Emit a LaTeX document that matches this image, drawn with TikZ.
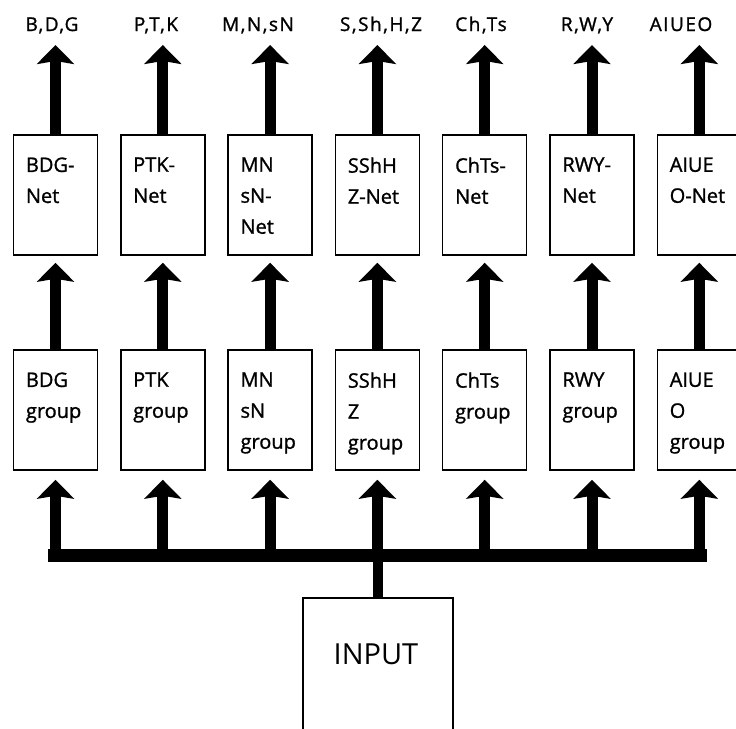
\documentclass[tikz,border=0pt]{standalone}
\usepackage{fontspec}
\setmainfont{Open Sans}
\newfontfamily\heavyfont{Open Sans}[FakeBold=1.2]
\usetikzlibrary{arrows.meta}
\begin{document}
\begin{tikzpicture}[x=1pt,y=-1pt,
  box/.style={draw, line width=1.5pt, minimum width=84pt, minimum height=120pt, inner sep=0pt},
  boxtext/.style={anchor=north west, inner sep=0pt, align=left, font=\heavyfont\fontsize{20}{31}\selectfont},
  toplabel/.style={anchor=base, inner sep=0pt, font=\heavyfont\fontsize{19}{22}\selectfont\addfontfeature{LetterSpace=8}},
  bigarrow/.style={line width=11pt, -{Stealth[length=19pt,width=37pt,inset=3pt]}},
  busline/.style={line width=13pt, line cap=rect},
  stem/.style={line width=10pt}
]
\useasboundingbox (0,0) rectangle (736,728);
\clip (0,0) rectangle (736,728);

% Net boxes (y 135..255) and group boxes (y 350..470)
\foreach \i/\x in {1/55.5,2/162.8,3/270.1,4/377.4,5/484.7,6/592,7/699.3}{
  \node[box] (n\i) at (\x,195) {};
  \node[box] (g\i) at (\x,410) {};
  \coordinate (t\i) at (\x,45);
  \coordinate (b\i) at (\x,555);
}

% Net box texts
\node[boxtext] (n1t) at ([xshift=13pt,yshift=-23pt]n1.north west) {BDG-\\Net};
\node[boxtext] (n2t) at ([xshift=13pt,yshift=-23pt]n2.north west) {PTK-\\Net};
\node[boxtext] (n3t) at ([xshift=13pt,yshift=-23pt]n3.north west) {MN\\sN-\\Net};
\node[boxtext] (n4t) at ([xshift=13pt,yshift=-23pt]n4.north west) {SShH\\Z-Net};
\node[boxtext] (n5t) at ([xshift=13pt,yshift=-23pt]n5.north west) {ChTs-\\Net};
\node[boxtext] (n6t) at ([xshift=13pt,yshift=-23pt]n6.north west) {RWY-\\Net};
\node[boxtext] (n7t) at ([xshift=13pt,yshift=-23pt]n7.north west) {AIUE\\O-Net};

% Group box texts
\node[boxtext] (g1t) at ([xshift=13pt,yshift=-23pt]g1.north west) {BDG\\group};
\node[boxtext] (g2t) at ([xshift=13pt,yshift=-23pt]g2.north west) {PTK\\group};
\node[boxtext] (g3t) at ([xshift=13pt,yshift=-23pt]g3.north west) {MN\\sN\\group};
\node[boxtext] (g4t) at ([xshift=13pt,yshift=-23pt]g4.north west) {SShH\\Z\\group};
\node[boxtext] (g5t) at ([xshift=13pt,yshift=-23pt]g5.north west) {ChTs\\group};
\node[boxtext] (g6t) at ([xshift=13pt,yshift=-23pt]g6.north west) {RWY\\group};
\node[boxtext] (g7t) at ([xshift=13pt,yshift=-23pt]g7.north west) {AIUE\\O\\group};

% Top labels
\node[toplabel] (l1) at (52,31) {B,D,G};
\node[toplabel] (l2) at (156,31) {P,T,K};
\node[toplabel] (l3) at (258,31) {M,N,sN};
\node[toplabel] (l4) at (381,31) {S,Sh,H,Z};
\node[toplabel] (l5) at (481,31) {Ch,Ts};
\node[toplabel] (l6) at (587,31) {R,W,Y};
\node[toplabel] (l7) at (681,31) {AIUEO};

% Input box
\node[box, minimum width=150pt, minimum height=150pt] (in) at (378,673) {};
\node[inner sep=0pt, font=\fontsize{29}{34}\selectfont] (intext) at (376,654) {INPUT};

% Arrows
\foreach \i in {1,...,7}{
  \draw[bigarrow] (n\i.north) -- (t\i);
  \draw[bigarrow, shorten >=7pt] (g\i.north) -- (n\i.south);
  \draw[bigarrow, shorten >=9pt] (b\i) -- (g\i.south);
}
\draw[busline] ([xshift=-1pt]b1) -- ([xshift=1pt]b7);
\draw[stem] (in.north) -- (in.north |- b4);
\end{tikzpicture}
\end{document}
